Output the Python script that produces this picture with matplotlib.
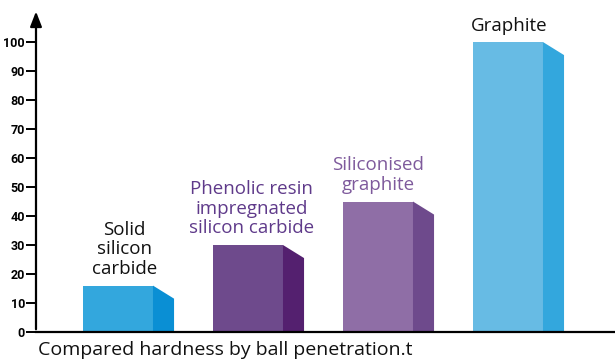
import matplotlib
matplotlib.use('Agg')
import matplotlib.pyplot as plt
from matplotlib.patches import Rectangle, Polygon

# Hardness comparison values (ball penetration)
materials = ['Solid\nsilicon\ncarbide', 'Phenolic resin\nimpregnated\nsilicon carbide',
             'Siliconised\ngraphite', 'Graphite']
hardness = [16, 30, 45, 100]
front_colors = ['#33a7dd', '#6e4a8c', '#8f6ea6', '#67bbe4']
side_colors = ['#0a8fd4', '#54206f', '#6e4a8c', '#33a7dd']
label_colors = ['#111111', '#5f3a8a', '#7e5a9c', '#111111']
label_dx = [0.05, 0.03, 0.0, 0.01]
yticks = [0, 10, 20, 30, 40, 50, 60, 70, 80, 90, 100]

plt.rcParams['font.family'] = ['Open Sans', 'DejaVu Sans']

fig = plt.figure(figsize=(6.15, 3.63), dpi=100)
ax = fig.add_axes([36 / 615, 31 / 363, 579 / 615, 332 / 363])
ax.set_xlim(-0.631, 3.823)
ax.set_ylim(0, 114.5)

bar_w = 0.538
side_w = 0.162
drop = 4.5

for i, (v, fc, sc) in enumerate(zip(hardness, front_colors, side_colors)):
    left = i - bar_w / 2
    right = i + bar_w / 2
    ax.add_patch(Rectangle((left, 0), bar_w, v, facecolor=fc, edgecolor='none', zorder=2))
    ax.add_patch(Polygon([(right, 0), (right, v), (right + side_w, v - drop), (right + side_w, 0)],
                         closed=True, facecolor=sc, edgecolor='none', zorder=2))
    ax.text(i + label_dx[i], v + 2.6, materials[i], ha='center', va='bottom', color=label_colors[i],
            fontsize=13.5, linespacing=1.12)

# axes: plain left spine with arrow, baseline across the width
for s in ['top', 'right']:
    ax.spines[s].set_visible(False)
ax.spines['left'].set_visible(False)
ax.spines['bottom'].set_linewidth(1.6)
ax.spines['bottom'].set_zorder(3)
ax.annotate('', xy=(-0.631, 111.5), xytext=(-0.631, 0), xycoords='data',
            arrowprops=dict(arrowstyle='-|>,head_length=0.9,head_width=0.35', color='black', lw=1.6),
            annotation_clip=False)

ax.set_xticks([])
ax.set_yticks(yticks)
ax.set_yticklabels([str(t) for t in yticks], fontsize=9, fontweight='bold',
                   family=['Roboto', 'DejaVu Sans'])
ax.tick_params(axis='y', length=7, width=1.4, pad=1)

fig.text(38 / 615, 1 - 350 / 363, 'Compared hardness by ball penetration.t', fontsize=14,
         ha='left', va='center', color='#111111')

fig.savefig('out.png', dpi=100)
